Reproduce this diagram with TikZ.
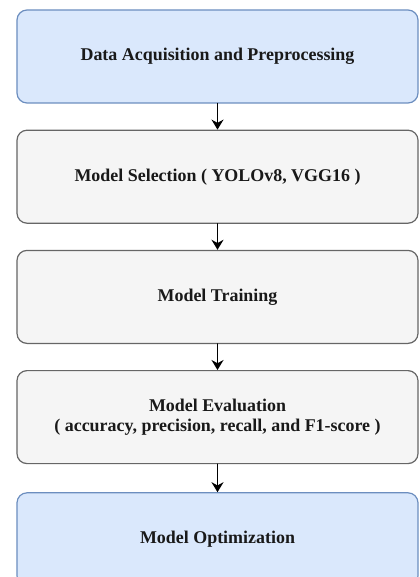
\documentclass[tikz,border=0pt]{standalone}
\usepackage{fontspec}
\setmainfont{Liberation Serif}
\usetikzlibrary{positioning,arrows.meta}
\definecolor{stepblue}{HTML}{DAE8FC}
\definecolor{stepblueline}{HTML}{6C8EBF}
\definecolor{stepgray}{HTML}{F5F5F5}
\definecolor{stepgrayline}{HTML}{666666}
\begin{document}
\begin{tikzpicture}[x=1bp,y=1bp,line cap=round,line join=round,
  every node/.style={font=\bfseries\fontsize{18}{20}\selectfont,text=black!90},
  stage/.style={rounded corners=10bp,minimum width=401bp,minimum height=93bp,
    align=center,line width=1.2bp,inner sep=0pt},
  bluebox/.style={stage,fill=stepblue,draw=stepblueline},
  graybox/.style={stage,fill=stepgray,draw=stepgrayline},
  flow/.style={-{Stealth[length=10bp,width=12bp]},line width=1.6bp},
  node distance=26bp]
\useasboundingbox (0,0) rectangle (419,-577);

% Pipeline stages, top to bottom.
\node[bluebox] (acq) at (217.5,-56.5) {Data Acquisition and Preprocessing};
\node[graybox,below=of acq]  (sel)  {Model Selection ( YOLOv8, VGG16 )};
\node[graybox,below=of sel]  (train) {Model Training};
\node[graybox,below=of train] (eval) {Model Evaluation\\( accuracy, precision, recall, and F1-score )};
\node[bluebox,below=28bp of eval] (opt)  {Model Optimization};

% Arrows between the stages.
\draw[flow] (acq)   -- (sel);
\draw[flow] (sel)   -- (train);
\draw[flow] (train) -- (eval);
\draw[flow] (eval)  -- (opt);
\end{tikzpicture}
\end{document}
